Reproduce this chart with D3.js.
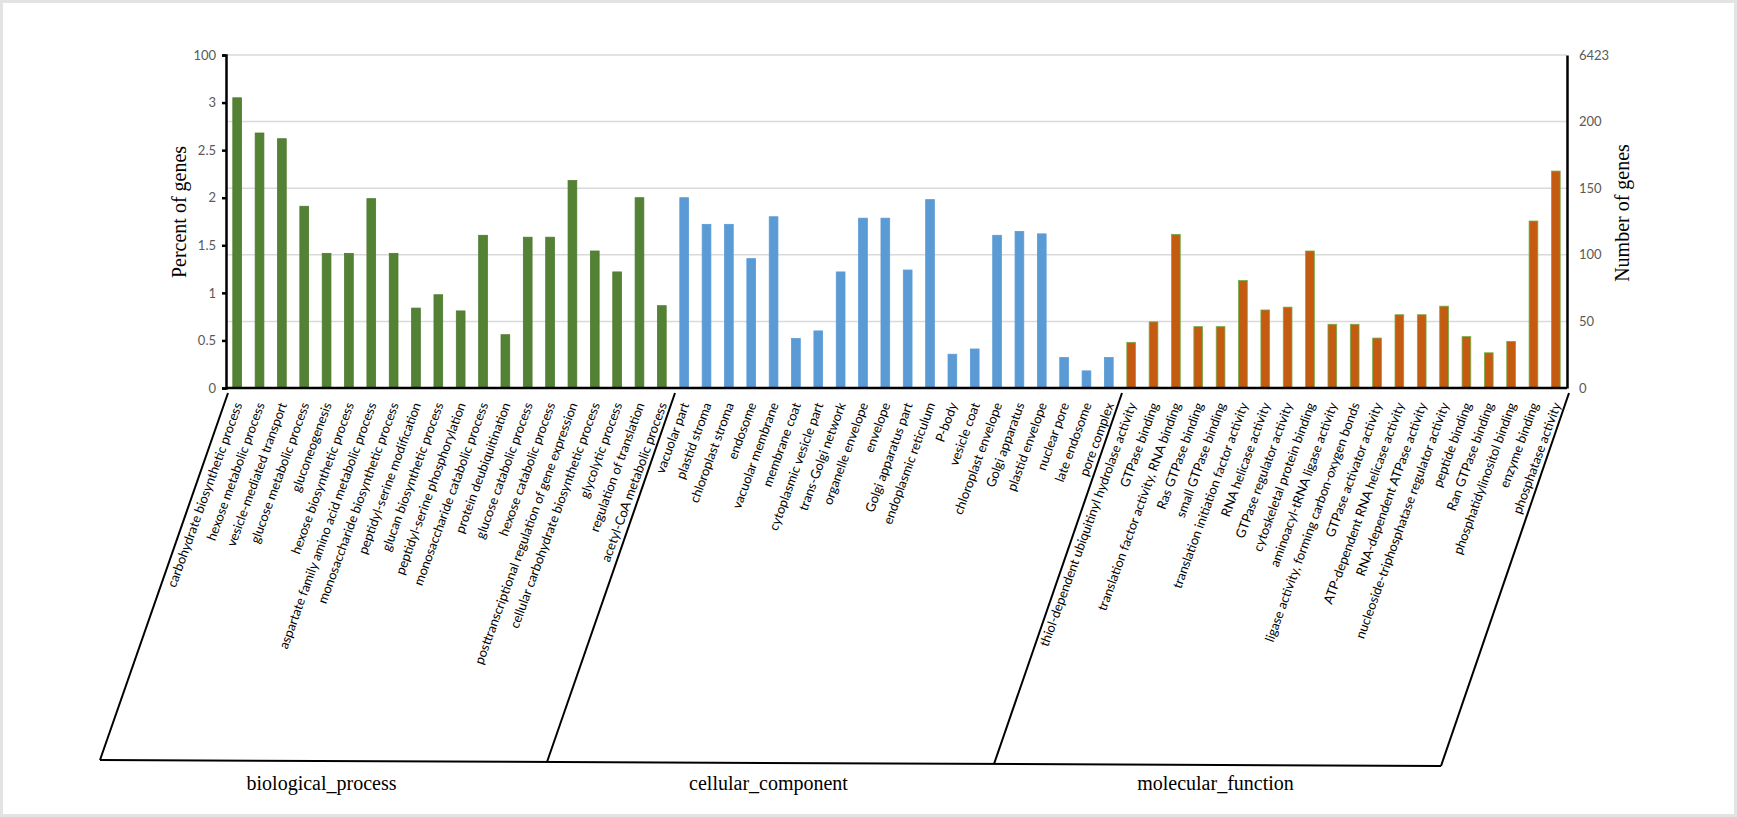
<!DOCTYPE html>
<html>
<head>
<meta charset="utf-8">
<script src="https://cdn.jsdelivr.net/npm/d3@7"></script>
<style>
  body { margin: 0; background: #fff; }
  svg { display: block; }
</style>
</head>
<body>
<div id="chart"></div>
<script>
// GO term categories (three groups) and their percent of genes
var bpTerms = ["carbohydrate biosynthetic process", "hexose metabolic process", "vesicle-mediated transport",
    "glucose metabolic process", "gluconeogenesis", "hexose biosynthetic process",
    "aspartate family amino acid metabolic process", "monosaccharide biosynthetic process",
    "peptidyl-serine modification", "glucan biosynthetic process", "peptidyl-serine phosphorylation",
    "monosaccharide catabolic process", "protein deubiquitination", "glucose catabolic process",
    "hexose catabolic process", "posttranscriptional regulation of gene expression",
    "cellular carbohydrate biosynthetic process", "glycolytic process", "regulation of translation",
    "acetyl-CoA metabolic process"];
var bpValues = [3.05, 2.68, 2.62, 1.91, 1.415, 1.415, 1.99, 1.415, 0.84, 0.98, 0.81, 1.605, 0.56,
    1.585, 1.585, 2.18, 1.44, 1.22, 2.0, 0.865];

var ccTerms = ["vacuolar part", "plastid stroma", "chloroplast stroma", "endosome", "vacuolar membrane",
    "membrane coat", "cytoplasmic vesicle part", "trans-Golgi network", "organelle envelope", "envelope",
    "Golgi apparatus part", "endoplasmic reticulum", "P-body", "vesicle coat", "chloroplast envelope",
    "Golgi apparatus", "plastid envelope", "nuclear pore", "late endosome", "pore complex"];
var ccValues = [2.0, 1.72, 1.72, 1.36, 1.80, 0.52, 0.60, 1.22, 1.785, 1.785, 1.24, 1.98, 0.355, 0.41,
    1.605, 1.645, 1.62, 0.32, 0.18, 0.32];

var mfTerms = ["thiol-dependent ubiquitinyl hydrolase activity", "GTPase binding",
    "translation factor activity, RNA binding", "Ras GTPase binding", "small GTPase binding",
    "translation initiation factor activity", "RNA helicase activity", "GTPase regulator activity",
    "cytoskeletal protein binding", "aminoacyl-tRNA ligase activity",
    "ligase activity, forming carbon-oxygen bonds", "GTPase activator activity",
    "ATP-dependent RNA helicase activity", "RNA-dependent ATPase activity",
    "nucleoside-triphosphatase regulator activity", "peptide binding", "Ran GTPase binding",
    "phosphatidylinositol binding", "enzyme binding", "phosphatase activity"];
var mfValues = [0.48, 0.695, 1.615, 0.645, 0.645, 1.13, 0.82, 0.85, 1.44, 0.67, 0.67, 0.525, 0.77,
    0.77, 0.86, 0.54, 0.37, 0.49, 1.755, 2.28];

var groupNames = ["biological_process", "cellular_component", "molecular_function"];

// axis ticks: the top tick stands for the whole set (100 % / 6423 genes)
var leftTicks = [0, 0.5, 1, 1.5, 2, 2.5, 3, 3.5];
var leftTickLabels = ["0", "0.5", "1", "1.5", "2", "2.5", "3", "100"];
var rightTicks = [0, 50, 100, 150, 200, 250];
var rightTickLabels = ["0", "50", "100", "150", "200", "6423"];

var groupColors = ["#548235", "#5b9bd5", "#c55a11"];
var groupStroke = ["#4e7a31", "#5b9bd5", "#70ad47"];

// build rows
var groups = [[bpTerms, bpValues], [ccTerms, ccValues], [mfTerms, mfValues]];
var data = [];
groups.forEach(function (g, gi) {
    g[0].forEach(function (t, i) {
        data.push({term: t, value: g[1][i], group: gi});
    });
});

var W = 1737, H = 817;
var margin = {top: 55, left: 226, right: 170, bottom: 429};
var plotW = W - margin.left - margin.right,
    plotH = H - margin.top - margin.bottom;

var svg = d3.select("#chart").append("svg")
    .attr("width", W)
    .attr("height", H);

// thin grey frame round the figure
svg.append("rect")
    .attr("x", 1.5).attr("y", 1.5)
    .attr("width", W - 3).attr("height", H - 3)
    .attr("fill", "none")
    .attr("stroke", "#e3e3e3")
    .attr("stroke-width", 3);

var g = svg.append("g")
    .attr("transform", "translate(" + margin.left + "," + margin.top + ")");

var x = d3.scaleBand()
    .domain(data.map(function (d) { return d.term; }))
    .range([0, plotW])
    .paddingInner(0.61)
    .paddingOuter(0.305);

var yL = d3.scaleLinear().domain([0, 3.5]).range([plotH, 0]);
var yR = d3.scaleLinear().domain([0, 250]).range([plotH, 0]);

// gridlines follow the right axis
g.append("g")
    .selectAll("line")
    .data(rightTicks.slice(1))
    .enter()
    .append("line")
    .attr("x1", 0).attr("x2", plotW)
    .attr("y1", function (d) { return yR(d); })
    .attr("y2", function (d) { return yR(d); })
    .attr("stroke", "#d9d9d9")
    .attr("stroke-width", 1.5);

// bars
g.append("g")
    .selectAll("rect")
    .data(data)
    .enter()
    .append("rect")
    .attr("x", function (d) { return x(d.term); })
    .attr("y", function (d) { return yL(d.value); })
    .attr("width", x.bandwidth())
    .attr("height", function (d) { return plotH - yL(d.value); })
    .attr("fill", function (d) { return groupColors[d.group]; })
    .attr("stroke", function (d) { return groupStroke[d.group]; })
    .attr("stroke-width", 0.8);

// left axis
var leftAxis = g.append("g")
    .call(d3.axisLeft(yL)
        .tickValues(leftTicks)
        .tickSize(4)
        .tickPadding(6)
        .tickFormat(function (d, i) { return leftTickLabels[i]; }));
leftAxis.select(".domain").attr("stroke", "#000").attr("stroke-width", 2.5);
leftAxis.selectAll(".tick line").attr("stroke", "#000").attr("stroke-width", 2.5);
leftAxis.selectAll(".tick text")
    .attr("fill", "#595959")
    .style("font-family", "Lato, 'Open Sans', sans-serif")
    .style("font-size", "13px");

// right axis
var rightAxis = g.append("g")
    .attr("transform", "translate(" + plotW + ",0)")
    .call(d3.axisRight(yR)
        .tickValues(rightTicks)
        .tickSize(0)
        .tickPadding(12)
        .tickFormat(function (d, i) { return rightTickLabels[i]; }));
rightAxis.select(".domain").attr("stroke", "#000").attr("stroke-width", 2.5);
rightAxis.selectAll(".tick text")
    .attr("fill", "#595959")
    .style("font-family", "Lato, 'Open Sans', sans-serif")
    .style("font-size", "13px");

// baseline
g.append("line")
    .attr("x1", 0).attr("x2", plotW)
    .attr("y1", plotH).attr("y2", plotH)
    .attr("stroke", "#000")
    .attr("stroke-width", 2.5);

// axis titles
svg.append("text")
    .attr("transform", "translate(179," + (margin.top + 157) + ") rotate(-90)")
    .attr("text-anchor", "middle")
    .attr("dy", "0.35em")
    .style("font-family", "'Liberation Serif', 'Times New Roman', serif")
    .style("font-size", "20px")
    .text("Percent of genes");

svg.append("text")
    .attr("transform", "translate(1622," + (margin.top + 158) + ") rotate(-90)")
    .attr("text-anchor", "middle")
    .attr("dy", "0.35em")
    .style("font-family", "'Liberation Serif', 'Times New Roman', serif")
    .style("font-size", "20px")
    .text("Number of genes");

// category labels, slanted
g.append("g")
    .selectAll("text")
    .data(data)
    .enter()
    .append("text")
    .attr("transform", function (d) {
        return "translate(" + (x(d.term) + x.bandwidth() / 2 + 1) + "," + (plotH + 15) + ") rotate(-70)";
    })
    .attr("text-anchor", "end")
    .attr("dy", "0.35em")
    .style("font-family", "Lato, 'Open Sans', sans-serif")
    .style("font-size", "13px")
    .attr("fill", "#000")
    .text(function (d) { return d.term; });

// group brackets: slanted separators joined by a bottom line
var step = x.step();
var gap = step - x.bandwidth();
var bounds = [0];
var idx = 0;
groups.forEach(function (gr) {
    idx += gr[0].length;
    bounds.push(idx === data.length ? plotW : x(data[idx].term) - gap / 2);
});
var slantTop = plotH + 5, slantBottom = plotH + 372, slantDx = -128;
function bottomY(bx) { return slantBottom + (bx / plotW) * 6; }

var bracket = g.append("g")
    .attr("fill", "none")
    .attr("stroke", "#000")
    .attr("stroke-width", 2);
bounds.forEach(function (b) {
    bracket.append("line")
        .attr("x1", b + 2).attr("y1", slantTop)
        .attr("x2", b + 2 + slantDx).attr("y2", bottomY(b));
});
bracket.append("line")
    .attr("x1", bounds[0] + 2 + slantDx).attr("y1", bottomY(bounds[0]))
    .attr("x2", bounds[3] + 2 + slantDx).attr("y2", bottomY(bounds[3]));

g.append("g")
    .selectAll("text")
    .data(groupNames)
    .enter()
    .append("text")
    .attr("x", function (d, i) { return (bounds[i] + bounds[i + 1]) / 2 + slantDx; })
    .attr("y", slantBottom + 30)
    .attr("text-anchor", "middle")
    .style("font-family", "'Liberation Serif', 'Times New Roman', serif")
    .style("font-size", "20px")
    .text(function (d) { return d; });
</script>
</body>
</html>
